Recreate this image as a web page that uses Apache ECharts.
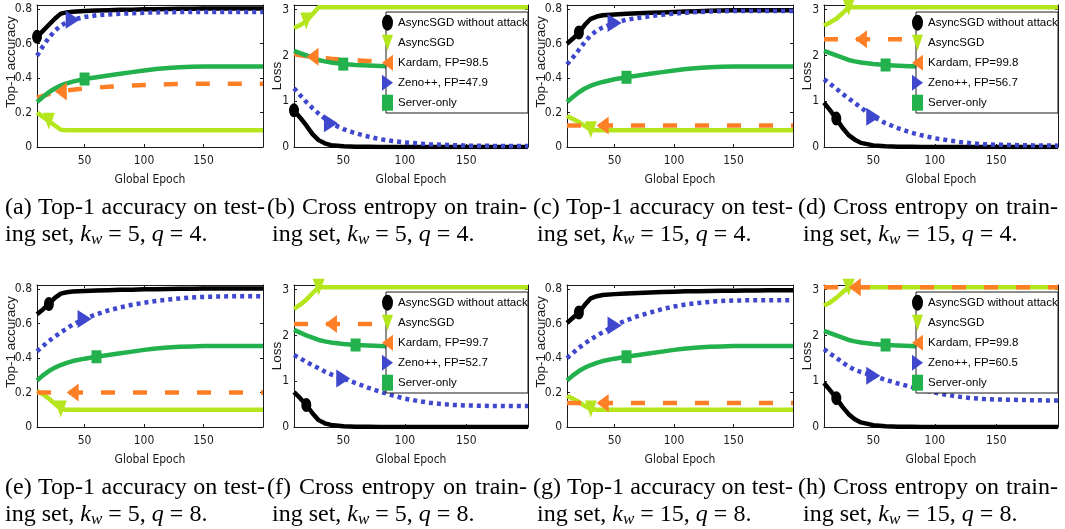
<!DOCTYPE html>
<html>
<head>
<meta charset="utf-8">
<script src="https://cdn.jsdelivr.net/npm/echarts@6/dist/echarts.min.js"></script>
<style>
  html, body { margin: 0; padding: 0; background: #ffffff; }
  #chart { width: 1065px; height: 529px; }
</style>
</head>
<body>
<div id="chart"></div>
<script>
// ---- data -------------------------------------------------------------
const epochs = [10, 15, 20, 25, 30, 35, 40, 50, 60, 70, 80, 90, 100, 110, 120, 130, 140, 150, 160, 170, 180, 190, 200];

const methodNames = ['AsyncSGD without attack', 'AsyncSGD', 'Kardam', 'Zeno++', 'Server-only'];
const kardamFP = ['98.5', '99.8', '99.7', '99.8'];
const zenoFP = ['47.9', '56.7', '52.7', '60.5'];

const captionTitles = [
  '(a) Top-1 accuracy on test-', '(b) Cross entropy on train-',
  '(c) Top-1 accuracy on test-', '(d) Cross entropy on train-',
  '(e) Top-1 accuracy on test-', '(f) Cross entropy on train-',
  '(g) Top-1 accuracy on test-', '(h) Cross entropy on train-'
];
const kwValues = [5, 5, 15, 15, 5, 5, 15, 15];
const qValues = [4, 4, 4, 4, 8, 8, 8, 8];

const accTicks = [0, 0.2, 0.4, 0.6, 0.8];
const lossTicks = [0, 1, 2, 3];
const epochTicks = [50, 100, 150];

// (a) accuracy, k_w = 5, q = 4
const accA_noAttack = [0.64, 0.675, 0.71, 0.745, 0.775, 0.782, 0.786, 0.79, 0.793, 0.795, 0.797, 0.798, 0.8, 0.801, 0.802, 0.803, 0.803, 0.804, 0.804, 0.805, 0.805, 0.805, 0.805];
const accA_async = [0.2, 0.175, 0.15, 0.125, 0.1, 0.097, 0.097, 0.097, 0.097, 0.097, 0.097, 0.097, 0.097, 0.097, 0.097, 0.097, 0.097, 0.097, 0.097, 0.097, 0.097, 0.097, 0.097];
const accA_kardam = [0.285, 0.297, 0.307, 0.315, 0.322, 0.328, 0.333, 0.34, 0.345, 0.35, 0.354, 0.357, 0.36, 0.362, 0.364, 0.366, 0.367, 0.367, 0.367, 0.367, 0.367, 0.367, 0.367];
const accA_zeno = [0.53, 0.585, 0.635, 0.675, 0.705, 0.725, 0.74, 0.755, 0.765, 0.77, 0.774, 0.777, 0.78, 0.782, 0.783, 0.784, 0.785, 0.785, 0.785, 0.785, 0.785, 0.785, 0.785];
const accA_server = [0.262, 0.29, 0.318, 0.34, 0.358, 0.37, 0.38, 0.395, 0.405, 0.415, 0.425, 0.435, 0.445, 0.453, 0.459, 0.464, 0.466, 0.467, 0.468, 0.468, 0.468, 0.468, 0.468];
const marksA = [10, 20, 30, 40, 50];

// (b) loss, k_w = 5, q = 4
const lossB_noAttack = [0.8, 0.64, 0.47, 0.28, 0.15, 0.08, 0.04, 0.015, 0.006, 0.003, 0, 0, 0, 0, 0, 0, 0, 0, 0, 0, 0, 0, 0];
const lossB_async = [2.6, 2.66, 2.75, 2.9, 3.05, 3.05, 3.05, 3.05, 3.05, 3.05, 3.05, 3.05, 3.05, 3.05, 3.05, 3.05, 3.05, 3.05, 3.05, 3.05, 3.05, 3.05, 3.05];
const lossB_kardam = [2.03, 2.0, 1.985, 1.97, 1.955, 1.94, 1.925, 1.905, 1.89, 1.88, 1.872, 1.865, 1.86, 1.855, 1.85, 1.845, 1.84, 1.836, 1.833, 1.83, 1.826, 1.823, 1.82];
const lossB_zeno = [1.28, 1.13, 0.98, 0.85, 0.73, 0.62, 0.52, 0.39, 0.3, 0.23, 0.17, 0.13, 0.1, 0.08, 0.06, 0.05, 0.04, 0.03, 0.027, 0.025, 0.022, 0.02, 0.02];
const lossB_server = [2.1, 2.05, 2.0, 1.95, 1.9, 1.87, 1.845, 1.81, 1.79, 1.78, 1.77, 1.76, 1.75, 1.74, 1.73, 1.72, 1.71, 1.705, 1.7, 1.69, 1.68, 1.675, 1.67];
const marksB = [10, 20, 25, 40, 50];

// (c) accuracy, k_w = 15, q = 4
const accC_noAttack = [0.6, 0.63, 0.665, 0.71, 0.745, 0.758, 0.765, 0.77, 0.774, 0.777, 0.78, 0.782, 0.785, 0.787, 0.789, 0.791, 0.793, 0.794, 0.795, 0.795, 0.795, 0.795, 0.795];
const accC_async = [0.18, 0.163, 0.145, 0.122, 0.1, 0.097, 0.097, 0.097, 0.097, 0.097, 0.097, 0.097, 0.097, 0.097, 0.097, 0.097, 0.097, 0.097, 0.097, 0.097, 0.097, 0.097, 0.097];
const accC_kardam = [0.125, 0.125, 0.125, 0.125, 0.125, 0.125, 0.125, 0.125, 0.125, 0.125, 0.125, 0.125, 0.125, 0.125, 0.125, 0.125, 0.125, 0.125, 0.125, 0.125, 0.125, 0.125, 0.125];
const accC_zeno = [0.48, 0.52, 0.565, 0.61, 0.65, 0.675, 0.695, 0.72, 0.74, 0.75, 0.76, 0.768, 0.775, 0.78, 0.784, 0.787, 0.789, 0.79, 0.79, 0.79, 0.79, 0.79, 0.79];
const accC_server = [0.262, 0.29, 0.318, 0.34, 0.356, 0.368, 0.378, 0.394, 0.405, 0.415, 0.425, 0.435, 0.445, 0.453, 0.459, 0.464, 0.466, 0.467, 0.468, 0.468, 0.468, 0.468, 0.468];
const marksC = [20, 30, 40, 50, 60];

// (d) loss, k_w = 15, q = 4
const lossD_noAttack = [0.97, 0.8, 0.62, 0.42, 0.26, 0.16, 0.09, 0.035, 0.015, 0.008, 0.004, 0.002, 0, 0, 0, 0, 0, 0, 0, 0, 0, 0, 0];
const lossD_async = [2.65, 2.72, 2.8, 2.92, 3.05, 3.05, 3.05, 3.05, 3.05, 3.05, 3.05, 3.05, 3.05, 3.05, 3.05, 3.05, 3.05, 3.05, 3.05, 3.05, 3.05, 3.05, 3.05];
const lossD_kardam = [2.35, 2.35, 2.35, 2.35, 2.35, 2.35, 2.35, 2.35, 2.35, 2.35, 2.35, 2.35, 2.35, 2.35, 2.35, 2.35, 2.35, 2.35, 2.35, 2.35, 2.35, 2.35, 2.35];
const lossD_zeno = [1.48, 1.38, 1.27, 1.16, 1.06, 0.96, 0.86, 0.66, 0.52, 0.41, 0.32, 0.25, 0.19, 0.15, 0.11, 0.08, 0.06, 0.05, 0.045, 0.04, 0.035, 0.032, 0.03];
const lossD_server = [2.1, 2.05, 2.0, 1.95, 1.9, 1.87, 1.845, 1.81, 1.79, 1.775, 1.765, 1.755, 1.745, 1.735, 1.725, 1.715, 1.708, 1.7, 1.695, 1.688, 1.68, 1.675, 1.67];
const marksD = [20, 30, 40, 50, 60];

// (e) accuracy, k_w = 5, q = 8
const accE_noAttack = [0.655, 0.683, 0.715, 0.75, 0.775, 0.783, 0.787, 0.79, 0.793, 0.795, 0.797, 0.798, 0.8, 0.801, 0.802, 0.803, 0.803, 0.804, 0.805, 0.805, 0.805, 0.805, 0.805];
const accE_async = [0.21, 0.19, 0.165, 0.135, 0.105, 0.1, 0.1, 0.1, 0.1, 0.1, 0.1, 0.1, 0.1, 0.1, 0.1, 0.1, 0.1, 0.1, 0.1, 0.1, 0.1, 0.1, 0.1];
const accE_kardam = [0.2, 0.2, 0.2, 0.2, 0.2, 0.2, 0.2, 0.2, 0.2, 0.2, 0.2, 0.2, 0.2, 0.2, 0.2, 0.2, 0.2, 0.2, 0.2, 0.2, 0.2, 0.2, 0.2];
const accE_zeno = [0.44, 0.47, 0.5, 0.525, 0.55, 0.572, 0.595, 0.628, 0.655, 0.677, 0.695, 0.71, 0.722, 0.732, 0.74, 0.747, 0.752, 0.756, 0.758, 0.759, 0.76, 0.76, 0.76];
const accE_server = [0.27, 0.3, 0.325, 0.345, 0.36, 0.372, 0.383, 0.397, 0.408, 0.418, 0.428, 0.438, 0.448, 0.456, 0.462, 0.466, 0.468, 0.47, 0.47, 0.47, 0.47, 0.47, 0.47];
const marksE = [20, 30, 40, 50, 60];

// (f) loss, k_w = 5, q = 8
const lossF_noAttack = [0.76, 0.63, 0.48, 0.3, 0.15, 0.08, 0.045, 0.015, 0.006, 0.003, 0, 0, 0, 0, 0, 0, 0, 0, 0, 0, 0, 0, 0];
const lossF_async = [2.58, 2.67, 2.78, 2.92, 3.05, 3.05, 3.05, 3.05, 3.05, 3.05, 3.05, 3.05, 3.05, 3.05, 3.05, 3.05, 3.05, 3.05, 3.05, 3.05, 3.05, 3.05, 3.05];
const lossF_kardam = [2.25, 2.25, 2.25, 2.25, 2.25, 2.25, 2.25, 2.25, 2.25, 2.25, 2.25, 2.25, 2.25, 2.25, 2.25, 2.25, 2.25, 2.25, 2.25, 2.25, 2.25, 2.25, 2.25];
const lossF_zeno = [1.57, 1.5, 1.42, 1.35, 1.28, 1.21, 1.15, 1.06, 0.96, 0.86, 0.77, 0.69, 0.62, 0.57, 0.53, 0.5, 0.48, 0.47, 0.465, 0.46, 0.46, 0.46, 0.46];
const lossF_server = [2.12, 2.06, 2.0, 1.95, 1.9, 1.87, 1.845, 1.81, 1.79, 1.78, 1.77, 1.76, 1.75, 1.74, 1.73, 1.72, 1.715, 1.71, 1.705, 1.7, 1.7, 1.7, 1.7];
const marksF = [20, 30, 40, 50, 60];

// (g) accuracy, k_w = 15, q = 8
const accG_noAttack = [0.605, 0.635, 0.665, 0.71, 0.748, 0.76, 0.767, 0.772, 0.776, 0.779, 0.782, 0.784, 0.786, 0.788, 0.789, 0.79, 0.791, 0.792, 0.793, 0.793, 0.794, 0.794, 0.794];
const accG_async = [0.18, 0.165, 0.145, 0.122, 0.105, 0.1, 0.1, 0.1, 0.1, 0.1, 0.1, 0.1, 0.1, 0.1, 0.1, 0.1, 0.1, 0.1, 0.1, 0.1, 0.1, 0.1, 0.1];
const accG_kardam = [0.14, 0.14, 0.14, 0.14, 0.14, 0.14, 0.14, 0.14, 0.14, 0.14, 0.14, 0.14, 0.14, 0.14, 0.14, 0.14, 0.14, 0.14, 0.14, 0.14, 0.14, 0.14, 0.14];
const accG_zeno = [0.4, 0.43, 0.46, 0.485, 0.51, 0.53, 0.55, 0.59, 0.62, 0.645, 0.665, 0.685, 0.7, 0.712, 0.72, 0.727, 0.732, 0.735, 0.736, 0.736, 0.736, 0.736, 0.736];
const accG_server = [0.27, 0.3, 0.325, 0.345, 0.36, 0.372, 0.383, 0.397, 0.408, 0.418, 0.428, 0.438, 0.448, 0.456, 0.462, 0.466, 0.468, 0.47, 0.47, 0.47, 0.47, 0.47, 0.47];
const marksG = [20, 30, 40, 50, 60];

// (h) loss, k_w = 15, q = 8
const lossH_noAttack = [0.96, 0.8, 0.63, 0.44, 0.28, 0.17, 0.1, 0.04, 0.015, 0.007, 0.003, 0.001, 0, 0, 0, 0, 0, 0, 0, 0, 0, 0, 0];
const lossH_async = [2.65, 2.72, 2.82, 2.94, 3.05, 3.05, 3.05, 3.05, 3.05, 3.05, 3.05, 3.05, 3.05, 3.05, 3.05, 3.05, 3.05, 3.05, 3.05, 3.05, 3.05, 3.05, 3.05];
const lossH_kardam = [3.05, 3.05, 3.05, 3.05, 3.05, 3.05, 3.05, 3.05, 3.05, 3.05, 3.05, 3.05, 3.05, 3.05, 3.05, 3.05, 3.05, 3.05, 3.05, 3.05, 3.05, 3.05, 3.05];
const lossH_zeno = [1.7, 1.6, 1.51, 1.41, 1.32, 1.25, 1.2, 1.12, 1.03, 0.95, 0.88, 0.81, 0.75, 0.7, 0.66, 0.63, 0.61, 0.6, 0.595, 0.59, 0.585, 0.58, 0.58];
const lossH_server = [2.1, 2.05, 2.0, 1.95, 1.9, 1.87, 1.845, 1.81, 1.79, 1.78, 1.77, 1.76, 1.75, 1.74, 1.73, 1.72, 1.71, 1.705, 1.7, 1.69, 1.68, 1.675, 1.67];
const marksH = [20, 30, 35, 50, 60];

// ---- panels -----------------------------------------------------------
const panels = [
  { kind: 'acc',  pair: 0, lines: [accA_noAttack, accA_async, accA_kardam, accA_zeno, accA_server], marks: marksA },
  { kind: 'loss', pair: 0, lines: [lossB_noAttack, lossB_async, lossB_kardam, lossB_zeno, lossB_server], marks: marksB },
  { kind: 'acc',  pair: 1, lines: [accC_noAttack, accC_async, accC_kardam, accC_zeno, accC_server], marks: marksC },
  { kind: 'loss', pair: 1, lines: [lossD_noAttack, lossD_async, lossD_kardam, lossD_zeno, lossD_server], marks: marksD },
  { kind: 'acc',  pair: 2, lines: [accE_noAttack, accE_async, accE_kardam, accE_zeno, accE_server], marks: marksE },
  { kind: 'loss', pair: 2, lines: [lossF_noAttack, lossF_async, lossF_kardam, lossF_zeno, lossF_server], marks: marksF },
  { kind: 'acc',  pair: 3, lines: [accG_noAttack, accG_async, accG_kardam, accG_zeno, accG_server], marks: marksG },
  { kind: 'loss', pair: 3, lines: [lossH_noAttack, lossH_async, lossH_kardam, lossH_zeno, lossH_server], marks: marksH }
];

// ---- styles -----------------------------------------------------------
const COND = "'DejaVu Sans Condensed', 'Liberation Sans', sans-serif";
const SANS = "'Liberation Sans', Arial, sans-serif";
const SERIF = "'Liberation Serif', 'Times New Roman', serif";
const INK = '#1a1a1a';

const ELLIPSE = 'path://M5,0 A5,5 0 1,1 5,10 A5,5 0 1,1 5,0 Z';
const TRI_DOWN = 'path://M0,0 L10,0 L5,10 Z';
const TRI_LEFT = 'path://M10,0 L10,10 L0,5 Z';
const TRI_RIGHT = 'path://M0,0 L10,5 L0,10 Z';

const lineLook = [
  { color: '#000000', dash: 'solid', symbol: ELLIPSE, size: [10, 14] },
  { color: '#B5E61D', dash: 'solid', symbol: TRI_DOWN, size: [12, 17] },
  { color: '#FF7F27', dash: [14, 18], symbol: TRI_LEFT, size: [12, 18] },
  { color: '#3F48CC', dash: [4, 4], symbol: TRI_RIGHT, size: [14, 18] },
  { color: '#22B14C', dash: 'solid', symbol: 'rect', size: [10, 13] }
];

function seriesName(k, pair) {
  if (k === 2) return methodNames[2] + ', FP=' + kardamFP[pair];
  if (k === 3) return methodNames[3] + ', FP=' + zenoFP[pair];
  return methodNames[k];
}

// ---- layout & option --------------------------------------------------
const colLeft = [37, 294, 567, 824];
const rowTop = [5, 285];
const plotH = 142;

const grid = [], xAxis = [], yAxis = [], series = [], legend = [], graphic = [];

panels.forEach((p, i) => {
  const col = i % 4, row = Math.floor(i / 4);
  const isLoss = p.kind === 'loss';
  const left = colLeft[col];
  const width = isLoss ? 234 : 226;
  const top = rowTop[row];
  grid.push({ left, top, width, height: plotH, show: false });

  const yMax = isLoss ? 3.1 : 0.825;
  const yTicks = isLoss ? lossTicks : accTicks;
  const axisLine = { show: true, onZero: false, lineStyle: { color: INK, width: 1 } };

  xAxis.push({
    type: 'value', gridIndex: i, position: 'bottom', min: 10, max: 200,
    name: 'Global Epoch', nameLocation: 'middle', nameGap: 27, nameMoveOverlap: false,
    nameTextStyle: { fontSize: 12, fontFamily: COND, color: INK },
    axisLine,
    axisTick: { show: true, inside: true, length: 3, customValues: epochTicks, lineStyle: { color: INK } },
    axisLabel: { customValues: epochTicks, fontSize: 12, fontFamily: COND, color: INK, margin: 8 },
    splitLine: { show: false }
  });
  xAxis.push({
    type: 'value', gridIndex: i, position: 'top', min: 10, max: 200,
    axisLine,
    axisTick: { show: true, inside: true, length: 3, customValues: epochTicks, lineStyle: { color: INK } },
    axisLabel: { show: false }, splitLine: { show: false }
  });
  yAxis.push({
    type: 'value', gridIndex: i, position: 'left', min: 0, max: yMax,
    name: isLoss ? 'Loss' : 'Top-1 accuracy', nameLocation: 'middle', nameGap: isLoss ? 10 : 19,
    nameMoveOverlap: false,
    nameTextStyle: { fontSize: 13.5, fontFamily: SANS, color: INK, padding: isLoss ? 0 : [0, 0, 0, 28] },
    axisLine,
    axisTick: { show: true, inside: true, length: 3, customValues: yTicks, lineStyle: { color: INK } },
    axisLabel: { customValues: yTicks, fontSize: 12, fontFamily: COND, color: INK, margin: 5 },
    splitLine: { show: false }
  });
  yAxis.push({
    type: 'value', gridIndex: i, position: 'right', min: 0, max: yMax,
    axisLine,
    axisTick: { show: true, inside: true, length: 3, customValues: yTicks, lineStyle: { color: INK } },
    axisLabel: { show: false }, splitLine: { show: false }
  });

  p.lines.forEach((vals, k) => {
    const look = lineLook[k];
    series.push({
      type: 'line',
      name: seriesName(k, p.pair),
      xAxisIndex: 2 * i, yAxisIndex: 2 * i,
      symbol: 'none', showSymbol: true,
      lineStyle: { color: look.color, width: 4.5, type: look.dash, cap: 'butt', join: 'round' },
      itemStyle: { color: look.color },
      data: epochs.map((e, j) => {
        const pt = [e, vals[j]];
        if (e === p.marks[k]) {
          return { value: pt, symbol: look.symbol, symbolSize: look.size, symbolKeepAspect: false };
        }
        return { value: pt };
      }),
      animation: false, silent: true
    });
  });

  if (isLoss) {
    const boxLeft = left + 92;
    const boxTop = top + 7;
    graphic.push({
      type: 'rect', z: 50,
      shape: { x: boxLeft, y: boxTop, width: left + width - boxLeft, height: 101 },
      style: { fill: '#ffffff', stroke: INK, lineWidth: 1 }
    });
    legend.push({
      orient: 'vertical', left: boxLeft - 4, top: boxTop + 2.7,
      itemWidth: 11, itemHeight: 16, itemGap: 4, padding: 0,
      symbolKeepAspect: false, selectedMode: false, z: 60,
      textStyle: { fontSize: 11.5, fontFamily: SANS, color: '#000', lineHeight: 16 },
      data: methodNames.map((n, k) => ({
        name: seriesName(k, p.pair),
        icon: lineLook[k].symbol,
        itemStyle: { color: lineLook[k].color, borderWidth: 0 }
      }))
    });
  }
});

// ---- sub-figure captions ---------------------------------------------
const CAP_SIZE = 24;
const measureCtx = document.createElement('canvas').getContext('2d');
measureCtx.font = CAP_SIZE + 'px "Liberation Serif"';
const capLine1X = [5, 267, 533, 798];
const capLine2X = [5, 272, 537, 803];
const capLine1W = 260;
const capRowY = [208, 488];

captionTitles.forEach((title, i) => {
  const col = i % 4, row = Math.floor(i / 4);
  const y = capRowY[row];
  // first line is set full width, the spare room shared between the words
  const words = title.split(' ');
  const widths = words.map(w => measureCtx.measureText(w).width);
  const spare = capLine1W - widths.reduce((s, w) => s + w, 0);
  const gap = Math.max(4, spare / (words.length - 1));
  let x = capLine1X[col];
  words.forEach((w, k) => {
    graphic.push({
      type: 'text', z: 70,
      style: { x, y, text: w, fontSize: CAP_SIZE, fontFamily: SERIF, fill: '#000', align: 'left', verticalAlign: 'middle' }
    });
    x += widths[k] + gap;
  });
  graphic.push({
    type: 'text', z: 70,
    style: {
      x: capLine2X[col], y: y + 27,
      text: 'ing set, {i|k}{s|w} = ' + kwValues[i] + ', {i|q} = ' + qValues[i] + '.',
      fontSize: CAP_SIZE, fontFamily: SERIF, fill: '#000', align: 'left', verticalAlign: 'middle', lineHeight: 26,
      rich: {
        i: { fontSize: CAP_SIZE, fontStyle: 'italic', fontFamily: SERIF, lineHeight: 26 },
        s: { fontSize: 17, fontStyle: 'italic', fontFamily: SERIF, lineHeight: 12, verticalAlign: 'bottom' }
      }
    }
  });
});

const chart = echarts.init(document.getElementById('chart'), null, { renderer: 'canvas' });
chart.setOption({
  backgroundColor: '#ffffff',
  animation: false,
  grid, xAxis, yAxis, series, legend, graphic
});
</script>
</body>
</html>
